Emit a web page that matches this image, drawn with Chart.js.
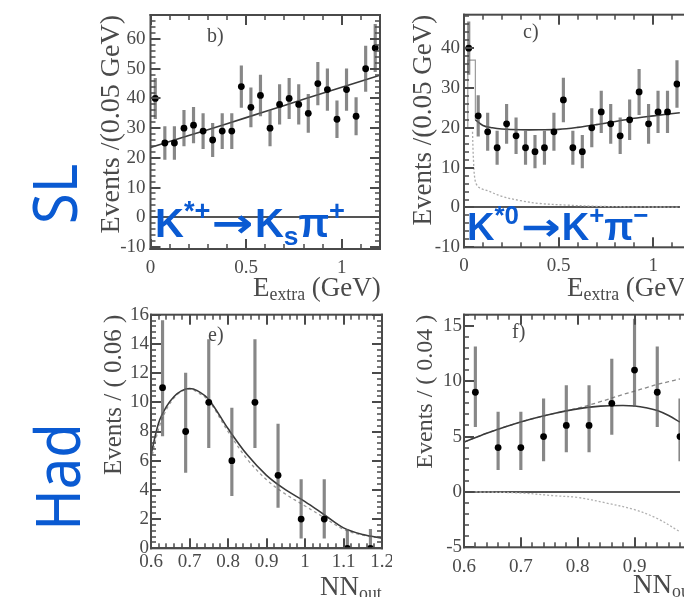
<!DOCTYPE html>
<html><head><meta charset="utf-8">
<script src="https://cdn.jsdelivr.net/npm/chart.js@4.4.0/dist/chart.umd.min.js"></script>
<style>
html,body{margin:0;padding:0;background:#fff;}
#wrap{position:relative;width:684px;height:597px;overflow:hidden;background:#fff;}
canvas{position:absolute;}
.t{position:absolute;white-space:nowrap;line-height:1;}
.serif{font-family:"Liberation Serif","DejaVu Serif",serif;color:#4a4a4a;}
.blue{font-family:"Liberation Sans",Arial,sans-serif;font-weight:bold;color:#0a5ad2;}
.side{font-family:"Noto Sans",sans-serif;color:#0a5ad2;}
.up{position:relative;font-size:0.68em;top:-0.62em;}
.dn{position:relative;font-size:0.66em;top:0.3em;}
.sub{position:relative;font-size:0.66em;top:0.25em;}
.arr{display:inline-block;font-family:"DejaVu Sans",sans-serif;font-weight:bold;transform:scaleX(1.25);margin:0 5px 0 6px;}
</style></head><body>
<div id="wrap">
<canvas id="cb" width="294" height="310" style="left:98px;top:0px"></canvas>
<canvas id="cc" width="274" height="310" style="left:410px;top:0px"></canvas>
<canvas id="ce" width="290" height="297" style="left:102px;top:300px"></canvas>
<canvas id="cf" width="270" height="297" style="left:414px;top:300px"></canvas>

<div class="t serif" style="left:207px;top:25px;font-size:20px">b)</div>
<div class="t serif" style="left:523px;top:21px;font-size:20px">c)</div>
<div class="t serif" style="left:208px;top:324px;font-size:20px">e)</div>
<div class="t serif" style="left:512px;top:321px;font-size:20px">f)</div>

<div class="t serif" style="left:253px;top:274px;font-size:27px">E<span class="sub">extra</span> (GeV)</div>
<div class="t serif" style="left:567px;top:274px;font-size:27px">E<span class="sub">extra</span> (GeV)</div>
<div class="t serif" style="left:320px;top:573px;font-size:27px">NN<span class="sub">out</span></div>
<div class="t serif" style="left:633px;top:571px;font-size:27px">NN<span class="sub">out</span></div>

<div class="t blue" style="left:155px;top:203px;font-size:40px">K<span class="up">*+</span><span class="arr">→</span>K<span class="dn">s</span>π<span class="up">+</span></div>
<div class="t blue" style="left:467px;top:208px;font-size:38px">K<span class="up">*0</span><span class="arr">→</span>K<span class="up">+</span>π<span class="up">−</span></div>

<div class="t side" style="left:52px;top:194px;font-size:56px;transform:translate(-50%,-50%) rotate(-90deg) scaleY(1.12)">SL</div>
<div class="t side" style="left:55px;top:477px;font-size:56px;transform:translate(-50%,-50%) rotate(-90deg) scaleY(1.12)">Had</div>
</div>
<script>
// ---------- Panel b: SL, K*+ -> Ks pi+ ----------
const bX  = [0.025,0.075,0.125,0.175,0.225,0.275,0.325,0.375,0.425,0.475,0.525,0.575,0.625,0.675,0.725,0.775,0.825,0.875,0.925,0.975,1.025,1.075,1.125,1.175];
const bY  = [40,25,25,30,31,29,26,29,29,44,37,41,30,38,40,38,35,45,43,33,43,34,50,57];
const bLo = [33.2,19.5,19.5,24,25,23.1,20.4,23.1,23.1,37,30.4,34.1,24,31.3,33.2,31.3,28.6,37.8,36,26.8,36,27.7,42.4,49];
const bHi = [46.8,30.5,30.5,36,37,34.9,31.6,34.9,34.9,51,43.6,47.9,36,44.7,46.8,44.7,41.4,52.2,50,39.2,50,40.3,57.6,65];
const bFitX = [0,0.2,0.4,0.6,0.8,1.0,1.2];
const bFitY = [23.5,27.5,31.5,35.6,39.7,43.8,47.8];
const bXTicks = [0,0.5,1];
const bYTicks = [-10,0,10,20,30,40,50,60];

// ---------- Panel c: SL, K*0 -> K+ pi- ----------
const cX  = [0.025,0.075,0.125,0.175,0.225,0.275,0.325,0.375,0.425,0.475,0.525,0.575,0.625,0.675,0.725,0.775,0.825,0.875,0.925,0.975,1.025,1.075,1.125];
const cY  = [40,23,19,15,21,18,15,14,15,19,27,15,14,20,24,21,18,22,29,21,24,24,31];
const cLo = [33.4,17.9,14.3,10.8,16.1,13.5,10.8,9.9,10.8,14.3,21.5,10.8,9.9,15.2,18.8,16.1,13.5,17,23.3,16.1,18.8,18.8,25.1];
const cHi = [46.6,28.1,23.7,19.2,25.9,22.5,19.2,18.1,19.2,23.7,32.5,19.2,18.1,24.8,29.2,25.9,22.5,27,34.7,25.9,29.2,29.2,36.9];
const cFitX = [0.06,0.1,0.15,0.2,0.3,0.4,0.5,0.6,0.7,0.8,0.9,1.0,1.14];
const cFitY = [22,20.6,20,19.7,19.5,19.5,19.6,20.1,20.8,21.6,22.4,23,23.8];
const cBoxX = [0.02,0.02,0.06,0.06];
const cBoxY = [20,37,37,22];
const cSigX = [0.045,0.05,0.06,0.08,0.125,0.2,0.3,0.4,0.54,0.7,0.9,1.14];
const cSigY = [19,12,6.5,5,4.2,2.8,1.7,1.0,0.6,0.3,0.15,0.1];
const cXTicks = [0,0.5,1];
const cYTicks = [-10,0,10,20,30,40];

// ---------- Panel e: Had, NN_out ----------
const eX  = [0.63,0.69,0.75,0.81,0.87,0.93,0.99,1.05,1.11,1.17];
const eY  = [11,8,10,6,10,5,2,2,0,0];
const eLo = [7.7,5.2,6.9,3.6,6.9,2.8,0.7,0.7,0,0];
const eHi = [15.6,12.0,14.3,9.6,14.3,8.5,4.7,4.7,1.3,1.3];
const eFitX  = [0.6,0.62,0.64,0.66,0.68,0.70,0.72,0.75,0.8,0.85,0.9,0.95,1.0,1.05,1.1,1.15,1.2];
const eFitY  = [6.4,8.6,9.7,10.4,10.8,10.95,10.8,10.2,8.2,6.4,5.0,4.0,3.2,2.3,1.4,0.95,0.7];
const eDashY = [6.0,8.2,9.5,10.3,10.75,10.9,10.7,10.1,8.0,6.1,4.7,3.7,2.9,2.1,1.3,0.9,0.7];
const eXTicks = [0.6,0.7,0.8,0.9,1,1.1,1.2];
const eYTicks = [0,2,4,6,8,10,12,14,16];

// ---------- Panel f: Had, NN_out ----------
const fX  = [0.62,0.66,0.70,0.74,0.78,0.82,0.86,0.90,0.94,0.98];
const fY  = [9,4,4,5,6,6,8,11,9,5];
const fLo = [5.9,2.0,2.0,2.8,3.6,3.6,5.2,7.7,5.9,2.8];
const fHi = [13.1,7.2,7.2,8.4,9.6,9.6,12.0,15.6,13.1,8.4];
const fFitX  = [0.6,0.64,0.68,0.72,0.76,0.8,0.84,0.88,0.9,0.92,0.94,0.96,0.98];
const fFitY  = [4.5,5.3,6.0,6.6,7.1,7.5,7.75,7.8,7.75,7.6,7.35,6.9,6.3];
const fDashY = [4.5,5.3,6.0,6.6,7.1,7.55,8.15,8.8,9.1,9.4,9.7,9.95,10.2];
const fBkgX = [0.62,0.7,0.76,0.8,0.85,0.9,0.94,0.98];
const fBkgY = [0,-0.1,-0.35,-0.5,-1.0,-1.6,-2.4,-3.6];
const fXTicks = [0.6,0.7,0.8,0.9];
const fYTicks = [-5,0,5,10,15];

const SERIF = '"Liberation Serif","DejaVu Serif",serif';
const TXT = '#4a4a4a';
const FRAME = '#4a4a4a';

const pts = (xs, ys) => xs.map((x, i) => ({x, y: ys[i]}));
const bars = (xs, lo, hi) => xs.map((x, i) => ({x, y: [lo[i], hi[i]]}));

function stepVals(min, max, step) {
  const out = [];
  const n0 = Math.ceil(min / step - 1e-6), n1 = Math.floor(max / step + 1e-6);
  for (let n = n0; n <= n1; n++) out.push(n * step);
  return out;
}

function framePlugin(cfg) {
  return {
    id: 'frame_' + cfg.id,
    afterDraw(chart) {
      const ctx = chart.ctx, a = chart.chartArea;
      const xs = chart.scales.x, ys = chart.scales.y;
      ctx.save();
      ctx.fillStyle = FRAME;
      const yTick = (v, len, th) => {
        const p = Math.round(ys.getPixelForValue(v));
        if (!(p >= a.top - 1 && p <= a.bottom + 1)) return;
        ctx.fillRect(a.left, p - th / 2, len, th);
        if (cfg.right) ctx.fillRect(a.right - len, p - th / 2, len, th);
      };
      const xTick = (v, len, th) => {
        const p = Math.round(xs.getPixelForValue(v));
        if (!(p >= a.left - 1 && p <= a.right + 1)) return;
        ctx.fillRect(p - th / 2, a.bottom - len, th, len);
        ctx.fillRect(p - th / 2, a.top, th, len);
      };
      stepVals(ys.min, ys.max, cfg.yMinor).forEach(v => yTick(v, 5, 1.5));
      cfg.yMajor.forEach(v => yTick(v, 10, 2));
      stepVals(xs.min, xs.max, cfg.xMinor).forEach(v => xTick(v, 5, 1.5));
      cfg.xMajor.forEach(v => xTick(v, 10, 2));
      // frame
      const rr = cfg.right ? a.right : chart.width;
      ctx.fillRect(a.left - 1, a.top - 1, rr - a.left + 2, 2);
      ctx.fillRect(a.left - 1, a.bottom - 1, rr - a.left + 2, 2);
      ctx.fillRect(a.left - 1, a.top - 1, 2, a.bottom - a.top + 2);
      if (cfg.right) ctx.fillRect(a.right - 1, a.top - 1, 2, a.bottom - a.top + 2);
      ctx.restore();
    }
  };
}

function makeChart(id, p) {
  const datasets = [];
  (p.lines || []).forEach(l => datasets.push({
    type: 'line', data: l.data, borderColor: l.color, borderWidth: l.width,
    borderDash: l.dash || [], pointRadius: 0, tension: l.tension === undefined ? 0.35 : l.tension,
    fill: false, order: 3
  }));
  datasets.push({
    type: 'bar', data: p.err, backgroundColor: 'rgba(95,95,95,0.75)',
    barThickness: 2.5, borderWidth: 0, order: 2, grouped: false
  });
  datasets.push({
    type: 'scatter', data: p.pts, pointRadius: 3.4, pointBackgroundColor: '#000',
    pointBorderColor: '#000', pointBorderWidth: 0, showLine: false, order: 1
  });
  return new Chart(document.getElementById(id), {
    type: 'scatter',
    data: {datasets},
    options: {
      responsive: false, animation: false, devicePixelRatio: 1,
      layout: {padding: {left: 0, top: p.padTop, right: p.padRight, bottom: 0}},
      plugins: {legend: {display: false}, tooltip: {enabled: false}},
      scales: {
        x: {
          type: 'linear', min: p.xMin, max: p.xMax, offset: false,
          grid: {display: false, drawTicks: false}, border: {display: false},
          afterBuildTicks: s => { s.ticks = p.xTicks.map(v => ({value: v})); },
          afterFit: s => { s.height = p.xH; s.paddingLeft = 0; s.paddingRight = 0; },
          ticks: {autoSkip: false, maxRotation: 0, padding: p.xPad, color: TXT,
                  font: {family: SERIF, size: 19}, callback: v => String(v)}
        },
        y: {
          type: 'linear', min: p.yMin, max: p.yMax,
          grid: {drawTicks: false, drawOnChartArea: true,
                 color: c => (c.tick && c.tick.value === 0) ? '#555' : 'rgba(0,0,0,0)',
                 lineWidth: c => (c.tick && c.tick.value === 0) ? 2 : 0},
          border: {display: false},
          afterBuildTicks: s => { s.ticks = p.yTicks.map(v => ({value: v})); },
          afterFit: s => { s.width = p.yW; s.paddingTop = 0; s.paddingBottom = 0; },
          ticks: {padding: p.yPad, color: TXT, font: {family: SERIF, size: 19}, callback: v => String(v)},
          title: {display: true, text: p.yTitle, align: 'end', color: TXT, padding: 0,
                  font: {family: SERIF, size: p.yTitleSize, lineHeight: 1}}
        }
      }
    },
    plugins: [framePlugin({id, xMajor: p.xTicks, yMajor: p.yTicks, xMinor: p.xMinor, yMinor: p.yMinor, right: p.right})]
  });
}

makeChart('cb', {
  pts: pts(bX, bY), err: bars(bX, bLo, bHi),
  lines: [{data: pts(bFitX, bFitY), color: '#3a3a3a', width: 1.6}],
  xMin: 0, xMax: 1.2, yMin: -10.7, yMax: 68.1, xTicks: bXTicks, yTicks: bYTicks,
  xMinor: 0.1, yMinor: 2, right: true,
  padTop: 15, padRight: 12, xH: 61, yW: 52.5, xPad: 8, yPad: 5,
  yTitle: 'Events /(0.05 GeV)', yTitleSize: 28
});
makeChart('cc', {
  pts: pts(cX, cY), err: bars(cX, cLo, cHi),
  lines: [
    {data: pts(cFitX, cFitY), color: '#3a3a3a', width: 1.6},
    {data: pts(cBoxX, cBoxY), color: '#9a9a9a', width: 1.2, tension: 0},
    {data: pts(cSigX, cSigY), color: '#aaaaaa', width: 1.3, dash: [2, 2]}
  ],
  xMin: 0, xMax: 1.141, yMin: -10, yMax: 48.4, xTicks: cXTicks, yTicks: cYTicks,
  xMinor: 0.1, yMinor: 2, right: false,
  padTop: 14.7, padRight: 0, xH: 62.7, yW: 54, xPad: 7, yPad: 4,
  yTitle: 'Events /(0.05 GeV)', yTitleSize: 27
});
makeChart('ce', {
  pts: pts(eX, eY), err: bars(eX, eLo, eHi),
  lines: [
    {data: pts(eFitX, eFitY), color: '#3a3a3a', width: 1.6},
    {data: pts(eFitX, eDashY), color: '#9a9a9a', width: 1.3, dash: [3, 3]}
  ],
  xMin: 0.6, xMax: 1.2, yMin: 0, yMax: 16, xTicks: eXTicks, yTicks: eYTicks,
  xMinor: 0.02, yMinor: 0.4, right: true,
  padTop: 14.7, padRight: 10, xH: 48.7, yW: 49, xPad: 2, yPad: 2,
  yTitle: 'Events / ( 0.06 )', yTitleSize: 25
});
makeChart('cf', {
  pts: pts(fX, fY), err: bars(fX, fLo, fHi),
  lines: [
    {data: pts(fFitX, fFitY), color: '#3a3a3a', width: 1.6},
    {data: pts(fFitX, fDashY), color: '#8a8a8a', width: 1.3, dash: [4, 3]},
    {data: pts(fBkgX, fBkgY), color: '#b0b0b0', width: 1.3, dash: [2, 2]}
  ],
  xMin: 0.6, xMax: 0.98, yMin: -5, yMax: 16, xTicks: fXTicks, yTicks: fYTicks,
  xMinor: 0.02, yMinor: 1, right: false,
  padTop: 14.7, padRight: 0, xH: 49.7, yW: 50, xPad: 8, yPad: 2,
  yTitle: 'Events / ( 0.04 )', yTitleSize: 24
});
</script>
</body></html>
